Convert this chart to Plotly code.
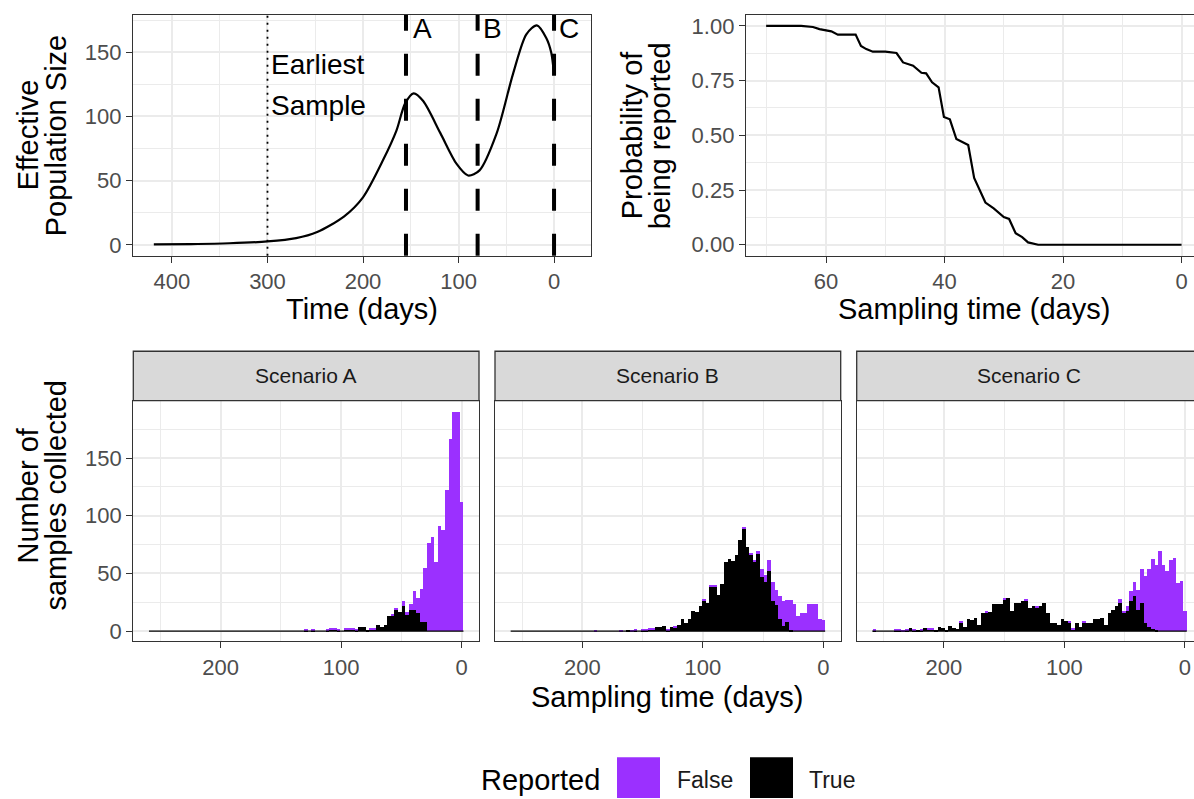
import plotly.graph_objects as go

W, H = 1194, 799
FONT = "Liberation Sans, Arial, sans-serif"
PURPLE = "#9B30FF"
BORDER = "#333333"
GRID = "#EBEBEB"
TICKTXT = "#4D4D4D"

# ---------------- data ----------------
# Top-left: effective population size through time
NE_DAYS = [419, 380, 340, 300, 270, 248, 220, 200, 179, 165, 156, 147, 137, 119, 102, 90, 78, 60, 43, 29, 18, 8, 3, 0]
NE_VALUES = [0.3, 0.6, 1.2, 2.6, 5.2, 10, 22, 37, 66, 89, 110, 118, 112, 87, 63, 54, 58, 87, 133, 164, 171, 161, 150, 133]
SCENARIO_DAYS = [155, 80, 0]
SCENARIO_LABELS = ["A", "B", "C"]
SCENARIO_LABEL_X = [149.5, 76.5, -3.0]
EARLIEST_SAMPLE_DAY = 300
TL_X_TICKS = [400, 300, 200, 100, 0]
TL_X_MINOR = [350, 250, 150, 50]
TL_Y_TICKS = [0, 50, 100, 150]
TL_Y_MINOR = [25, 75, 125, 175]

# Top-right: probability of being reported
REPORT_DAYS = [70.1, 64.2, 62.2, 61.1, 59.1, 58.0, 55.0, 54.1, 53.2, 52.1, 50.0, 48.1, 47.0, 45.3, 43.9,
               43.1, 42.1, 41.0, 40.1, 39.1, 38.0, 36.0, 35.0, 34.1, 33.1, 31.7, 30.0, 29.1, 28.0, 26.9,
               25.9, 24.2, 0]
REPORT_PROB = [1.0, 1.0, 0.995, 0.985, 0.975, 0.96, 0.96, 0.908, 0.894, 0.882, 0.882, 0.876, 0.833, 0.818, 0.786,
               0.783, 0.742, 0.719, 0.584, 0.573, 0.483, 0.456, 0.305, 0.252, 0.193, 0.166, 0.127, 0.118, 0.053, 0.035,
               0.011, 0.0, 0.0]
TR_X_TICKS = [60, 40, 20, 0]
TR_X_MINOR = [70, 50, 30, 10]
TR_Y_TICKS = [0, 0.25, 0.5, 0.75, 1.0]
TR_Y_TICKTEXT = ["0.00", "0.25", "0.50", "0.75", "1.00"]
TR_Y_MINOR = [0.125, 0.375, 0.625, 0.875]

# Bottom: histograms of sampling times (bins of 3 days, bin 0 centred on day 0)
BIN_WIDTH = 3
N_BINS = 87
BIN_CENTERS = [BIN_WIDTH * k for k in range(N_BINS)]

A_TRUE = [0, 0, 0, 0, 0, 0, 0, 0, 0, 0,
          8, 8, 16, 19, 19, 14, 22, 17, 19, 14,
          13, 6, 4, 6, 2, 2, 1, 4, 4, 1,
          2, 2, 2, 0, 1, 2, 2, 1, 0, 0,
          0, 1, 0, 1, 0, 0, 0, 0, 0, 0] + [0] * 37
A_FALSE = [112, 190, 190, 167, 123, 88, 91, 60, 82, 77,
           47, 29, 13, 16, 5, 3, 4, 0, 1, 1,
           0, 0, 0, 0, 1, 1, 0, 0, 0, 1,
           1, 1, 1, 0, 1, 1, 1, 1, 0, 0,
           0, 1, 0, 1, 0, 0, 0, 0, 0, 0] + [0] * 37
B_TRUE = [0, 0, 0, 0, 0, 0, 0, 0, 0, 1,
          8, 5, 11, 23, 26, 52, 43, 47, 67, 61,
          67, 73, 89, 79, 66, 61, 63, 60, 41, 32,
          39, 39, 25, 27, 22, 17, 18, 11, 7, 11,
          6, 3, 4, 1, 5, 4, 4, 2, 2, 1,
          1, 0, 1, 0, 1, 0, 0, 0, 0, 0] + [0] * 27
B_FALSE = [10, 11, 24, 24, 24, 16, 16, 13, 24, 26,
           19, 21, 20, 13, 17, 10, 6, 7, 3, 1,
           1, 0, 1, 0, 0, 0, 0, 0, 0, 0,
           1, 1, 0, 1, 0, 0, 0, 0, 0, 0,
           0, 1, 0, 1, 0, 0, 0, 1, 1, 1,
           1, 0, 1, 1, 0, 0, 1, 0, 0, 0,
           0, 0, 0, 1, 0, 0, 0, 0, 0, 0] + [0] * 17
C_TRUE = [0, 0, 0, 0, 0, 0, 0, 0, 1, 2,
          4, 7, 25, 19, 31, 26, 18, 16, 25, 22,
          19, 16, 6, 12, 11, 11, 7, 7, 8, 4,
          7, 2, 8, 9, 11, 6, 7, 7, 16, 25,
          22, 21, 22, 20, 27, 26, 25, 25, 18, 29,
          28, 24, 24, 24, 17, 16, 16, 6, 12, 10,
          11, 4, 8, 2, 3, 5, 1, 3, 4, 1,
          2, 2, 3, 1, 1, 1, 3, 1, 0, 1,
          1, 0, 0, 0, 0, 0, 1]
C_FALSE = [18, 44, 42, 64, 62, 52, 58, 70, 57, 61,
           50, 41, 29, 17, 12, 9, 4, 1, 3, 0,
           0, 0, 0, 0, 0, 0, 0, 0, 1, 0,
           0, 1, 1, 0, 0, 0, 0, 0, 0, 0,
           0, 1, 0, 0, 1, 0, 0, 0, 0, 0,
           1, 0, 0, 0, 0, 1, 0, 0, 0, 0,
           0, 0, 1, 0, 0, 0, 0, 0, 0, 0,
           1, 1, 0, 1, 0, 1, 0, 1, 1, 1,
           1, 0, 0, 0, 0, 0, 1]
SCENARIOS = ["Scenario A", "Scenario B", "Scenario C"]
HIST_TRUE = [A_TRUE, B_TRUE, C_TRUE]
HIST_FALSE = [A_FALSE, B_FALSE, C_FALSE]
BOT_X_TICKS = [200, 100, 0]
BOT_X_MINOR = [250, 150, 50]
BOT_Y_TICKS = [0, 50, 100, 150]
BOT_Y_MINOR = [25, 75, 125, 175]

# ---------------- layout helpers ----------------
TITLE = 29
SMALL = 23


def fx(p):
    return p / W


def fy(p):
    return 1 - p / H


TOP_Y = [fy(256), fy(14)]
BOT_Y = [fy(643.3), fy(401.7)]
STRIP_PX = (352, 401.7)
PANEL_X_PX = {"x": (133, 591), "x2": (746, 1202), "x3": (133.3, 479), "x4": (495, 840.7), "x5": (856.7, 1202)}


def dom(key):
    a, b = PANEL_X_PX[key]
    return [fx(a), min(1.0, fx(b))]


def axis(tickvals, minor, rng, domain, anchor, ticktext=None, labels=True, ticks=True, mirror=True):
    return dict(
        domain=domain, anchor=anchor, range=rng, tickmode="array", tickvals=tickvals,
        ticktext=ticktext if ticktext is not None else [str(v) for v in tickvals],
        showticklabels=labels, ticks="outside" if ticks else "", ticklen=6, tickwidth=1.3,
        tickcolor=BORDER, tickfont=dict(family=FONT, size=SMALL - 1, color=TICKTXT),
        showline=True, linecolor=BORDER, linewidth=1.3, mirror=mirror,
        showgrid=True, gridcolor=GRID, gridwidth=2, zeroline=False,
        minor=dict(tickmode="array", tickvals=minor, showgrid=True, gridcolor=GRID, gridwidth=1, ticks=""),
        fixedrange=True,
    )


fig = go.Figure()

# top-left curve
fig.add_trace(go.Scatter(x=NE_DAYS, y=NE_VALUES, mode="lines", xaxis="x", yaxis="y",
                         line=dict(color="black", width=2.2, shape="spline", smoothing=0.8),
                         showlegend=False, hoverinfo="skip"))
# top-right curve
fig.add_trace(go.Scatter(x=REPORT_DAYS, y=REPORT_PROB, mode="lines", xaxis="x2", yaxis="y2",
                         line=dict(color="black", width=2.2), showlegend=False, hoverinfo="skip"))

# histograms
for i, ax in enumerate(["3", "4", "5"]):
    fig.add_trace(go.Bar(x=BIN_CENTERS, y=HIST_TRUE[i], width=BIN_WIDTH, marker=dict(color="black", line=dict(width=0)),
                         xaxis="x" + ax, yaxis="y" + ax, showlegend=False, hoverinfo="skip"))
    fig.add_trace(go.Bar(x=BIN_CENTERS, y=HIST_FALSE[i], width=BIN_WIDTH, marker=dict(color=PURPLE, line=dict(width=0)),
                         xaxis="x" + ax, yaxis="y" + ax, showlegend=False, hoverinfo="skip"))
    edges = [BIN_CENTERS[-1] + BIN_WIDTH / 2, BIN_CENTERS[0] - BIN_WIDTH / 2]
    fig.add_trace(go.Scatter(x=edges, y=[0, 0], mode="lines", line=dict(color="black", width=1.2),
                             xaxis="x" + ax, yaxis="y" + ax, showlegend=False, hoverinfo="skip"))

layout = dict(
    width=W, height=H, margin=dict(l=0, r=0, t=0, b=0, pad=0),
    paper_bgcolor="white", plot_bgcolor="white", barmode="stack", bargap=0,
    font=dict(family=FONT, color="black"),
    showlegend=False,
    xaxis=axis(TL_X_TICKS, TL_X_MINOR, [440.8, -38.7], dom("x"), "y"),
    yaxis=axis(TL_Y_TICKS, TL_Y_MINOR, [-8.5, 179.1], TOP_Y, "x"),
    xaxis2=axis(TR_X_TICKS, TR_X_MINOR, [73.5, -2.1], dom("x2"), "y2"),
    yaxis2=axis(TR_Y_TICKS, TR_Y_MINOR, [-0.05, 1.05], TOP_Y, "x2", ticktext=TR_Y_TICKTEXT, mirror=False),
    xaxis3=axis(BOT_X_TICKS, BOT_X_MINOR, [272.5, -14.4], dom("x3"), "y3"),
    yaxis3=axis(BOT_Y_TICKS, BOT_Y_MINOR, [-8.6, 199.7], BOT_Y, "x3"),
    xaxis4=axis(BOT_X_TICKS, BOT_X_MINOR, [272.5, -14.4], dom("x4"), "y4"),
    yaxis4=axis(BOT_Y_TICKS, BOT_Y_MINOR, [-8.6, 199.7], BOT_Y, "x4", labels=False, ticks=False),
    xaxis5=axis(BOT_X_TICKS, BOT_X_MINOR, [272.4, -7.5], dom("x5"), "y5"),
    yaxis5=axis(BOT_Y_TICKS, BOT_Y_MINOR, [-8.6, 199.7], BOT_Y, "x5", labels=False, ticks=False, mirror=False),
)
fig.update_layout(**layout)

shapes = []
# scenario dashed lines
for d in SCENARIO_DAYS:
    shapes.append(dict(type="line", xref="x", yref="y domain", x0=d, x1=d, y0=0, y1=1,
                       line=dict(color="black", width=4, dash="22px,23px")))
# earliest sample dotted line
shapes.append(dict(type="line", xref="x", yref="y domain", x0=EARLIEST_SAMPLE_DAY, x1=EARLIEST_SAMPLE_DAY,
                   y0=0, y1=1, line=dict(color="black", width=1.8, dash="2px,5px")))
# strips
for key in ["x3", "x4", "x5"]:
    a, b = PANEL_X_PX[key]
    shapes.append(dict(type="rect", xref="paper", yref="paper", x0=fx(a), x1=fx(b),
                       y0=fy(STRIP_PX[1]), y1=fy(STRIP_PX[0]), fillcolor="#D9D9D9",
                       line=dict(color=BORDER, width=1.3), layer="above"))
# legend keys
shapes.append(dict(type="rect", xref="paper", yref="paper", x0=fx(617), x1=fx(660), y0=fy(801), y1=fy(760),
                   fillcolor=PURPLE, line=dict(width=0)))
shapes.append(dict(type="rect", xref="paper", yref="paper", x0=fx(750), x1=fx(793), y0=fy(801), y1=fy(760),
                   fillcolor="black", line=dict(width=0)))

ann = []


def text(t, xp, yp, size=TITLE, angle=0, xanchor="center", color="black"):
    ann.append(dict(text=t, x=fx(xp), y=fy(yp), xref="paper", yref="paper", showarrow=False,
                    textangle=angle, xanchor=xanchor, yanchor="middle",
                    font=dict(family=FONT, size=size, color=color)))


# scenario labels
for lab, lx in zip(SCENARIO_LABELS, SCENARIO_LABEL_X):
    ann.append(dict(text=lab, x=lx, y=fy(28), xref="x", yref="paper", showarrow=False, xanchor="left",
                    yanchor="middle", font=dict(family=FONT, size=28, color="black")))
ann.append(dict(text="Earliest", x=EARLIEST_SAMPLE_DAY - 2, y=fy(64), xref="x", yref="paper", showarrow=False,
                xanchor="left", yanchor="middle", font=dict(family=FONT, size=28, color="black")))
ann.append(dict(text="Sample", x=EARLIEST_SAMPLE_DAY - 2, y=fy(105), xref="x", yref="paper", showarrow=False,
                xanchor="left", yanchor="middle", font=dict(family=FONT, size=28, color="black")))

# axis titles
text("Time (days)", 362, 310)
text("Sampling time (days)", 974, 310)
text("Sampling time (days)", 667.5, 699)
text("Effective", 28, 135, angle=-90)
text("Population Size", 56, 135, angle=-90)
text("Probability of", 632, 135, angle=-90)
text("being reported", 660, 135, angle=-90)
text("Number of", 28, 497, angle=-90)
text("samples collected", 56, 497, angle=-90)

# strip labels
for key, lab in zip(["x3", "x4", "x5"], SCENARIOS):
    a, b = PANEL_X_PX[key]
    text(lab, (a + b) / 2, (STRIP_PX[0] + STRIP_PX[1]) / 2, size=21, color="#1A1A1A")

# legend
text("Reported", 479, 783, size=TITLE, xanchor="left")
text("False", 675, 783, size=SMALL, xanchor="left", color="#1A1A1A")
text("True", 807, 783, size=SMALL, xanchor="left", color="#1A1A1A")

fig.update_layout(shapes=shapes, annotations=ann)
fig.write_html("out.html", config={"displayModeBar": False})
